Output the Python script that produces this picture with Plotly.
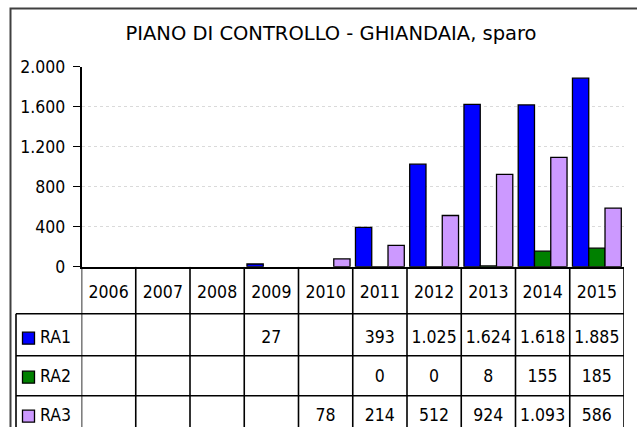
import plotly.graph_objects as go

# ---------------- data ----------------
years = ["2006", "2007", "2008", "2009", "2010", "2011", "2012", "2013", "2014", "2015"]
series_names = ["RA1", "RA2", "RA3"]
ra1 = [None, None, None, 27, None, 393, 1025, 1624, 1618, 1885]
ra2 = [None, None, None, None, None, 0, 0, 8, 155, 185]
ra3 = [None, None, None, None, 78, 214, 512, 924, 1093, 586]
y_ticks = [0, 400, 800, 1200, 1600, 2000]
title_text = "PIANO DI CONTROLLO - GHIANDAIA, sparo"

# ---------------- style ----------------
W, H = 637, 427
FONT = "DejaVu Sans Condensed, DejaVu Sans, sans-serif"
TITLE_FONT = "DejaVu Sans, sans-serif"
colors = ["#0000FF", "#008000", "#CC99FF"]
series = [ra1, ra2, ra3]

def px(p):
    return p / W

def py(p):
    return 1 - p / H

plot_left, plot_right = 81.5, 624
plot_top, zero_px = 66.7, 266.7
legend_left = 16
table_h = H - zero_px            # y2 measured in pixels below the zero line
row_centers = [26.5, 71.5, 110.5, 149.5]
row_lines = [47, 89, 129]

idx = list(range(len(years)))

fig = go.Figure()

for name, vals, c in zip(series_names, series, colors):
    fig.add_trace(go.Bar(
        x=idx, y=vals, name=name,
        marker=dict(color=c, line=dict(color="black", width=1.3)),
        showlegend=False, hoverinfo="skip",
    ))

def fmt(v):
    return "" if v is None else f"{v:,}".replace(",", ".")

fig.add_trace(go.Scatter(
    x=idx, y=[row_centers[0]] * len(years), text=years, mode="text",
    xaxis="x", yaxis="y2", textfont=dict(family=FONT, size=17.5, color="black"),
    showlegend=False, hoverinfo="skip", cliponaxis=False,
))
for r, vals in enumerate(series):
    fig.add_trace(go.Scatter(
        x=idx, y=[row_centers[r + 1]] * len(years), text=[fmt(v) for v in vals],
        mode="text", xaxis="x", yaxis="y2",
        textfont=dict(family=FONT, size=17.5, color="black"),
        showlegend=False, hoverinfo="skip", cliponaxis=False,
    ))

fig.add_trace(go.Scatter(
    x=[12.5] * 3, y=row_centers[1:], mode="markers",
    marker=dict(symbol="square", size=12, color=colors, line=dict(color="black", width=1.3)),
    xaxis="x2", yaxis="y2", showlegend=False, hoverinfo="skip", cliponaxis=False,
))
fig.add_trace(go.Scatter(
    x=[24] * 3, y=row_centers[1:], text=series_names, mode="text",
    textposition="middle right",
    textfont=dict(family=FONT, size=17.5, color="black"),
    xaxis="x2", yaxis="y2", showlegend=False, hoverinfo="skip", cliponaxis=False,
))

shapes = []
shapes.append(dict(type="rect", xref="paper", yref="paper",
                   x0=px(10.5), x1=px(700), y0=py(8.5), y1=py(600),
                   line=dict(color="#404040", width=2), layer="above"))
for k in range(len(years) + 1):
    shapes.append(dict(type="line", xref="x", yref="y2",
                       x0=k - 0.5, x1=k - 0.5, y0=0, y1=table_h + 20,
                       line=dict(color="black", width=1.6)))
shapes.append(dict(type="line", xref="paper", yref="y2",
                   x0=px(legend_left), x1=px(legend_left), y0=row_lines[0], y1=table_h + 20,
                   line=dict(color="black", width=1.6)))
for yl in row_lines:
    shapes.append(dict(type="line", xref="paper", yref="y2",
                       x0=px(legend_left), x1=px(plot_right), y0=yl, y1=yl,
                       line=dict(color="black", width=1.6)))

fig.update_layout(
    width=W, height=H,
    margin=dict(l=0, r=0, t=0, b=0, pad=0, autoexpand=False),
    paper_bgcolor="white", plot_bgcolor="white",
    separators=",.",
    barmode="group", bargap=0.1, bargroupgap=0,
    font=dict(family=FONT, size=17.5, color="black"),
    title=dict(text=title_text, x=px(331), xanchor="center", y=py(33.5), yanchor="middle",
               font=dict(family=TITLE_FONT, size=19.5, color="black")),
    xaxis=dict(domain=[px(plot_left), px(plot_right)], range=[-0.5, len(years) - 0.5],
               showticklabels=False, ticks="", showgrid=False, zeroline=False, automargin=False,
               showline=True, linecolor="black", linewidth=1.6, anchor="y", fixedrange=True),
    yaxis=dict(domain=[py(zero_px), py(plot_top)], range=[0, 2000], tickvals=y_ticks,
               separatethousands=True, ticks="outside", ticklen=7, tickcolor="black",
               tickwidth=1.3, showline=True, linecolor="black", linewidth=1.6,
               showgrid=True, gridcolor="#dadada", griddash="dot", gridwidth=1,
               zeroline=False, ticklabelstandoff=4, automargin=False,
               tickfont=dict(family=FONT, size=17.5, color="black"), anchor="x"),
    xaxis2=dict(domain=[px(legend_left), px(plot_left)], range=[0, plot_left - legend_left],
                visible=False, anchor="y2", automargin=False),
    yaxis2=dict(domain=[0, py(zero_px)], range=[table_h, 0], visible=False, anchor="x",
                automargin=False),
    shapes=shapes,
)

fig.write_html("out.html", config={"displayModeBar": False},
               post_script="document.body.style.margin='0px';")
